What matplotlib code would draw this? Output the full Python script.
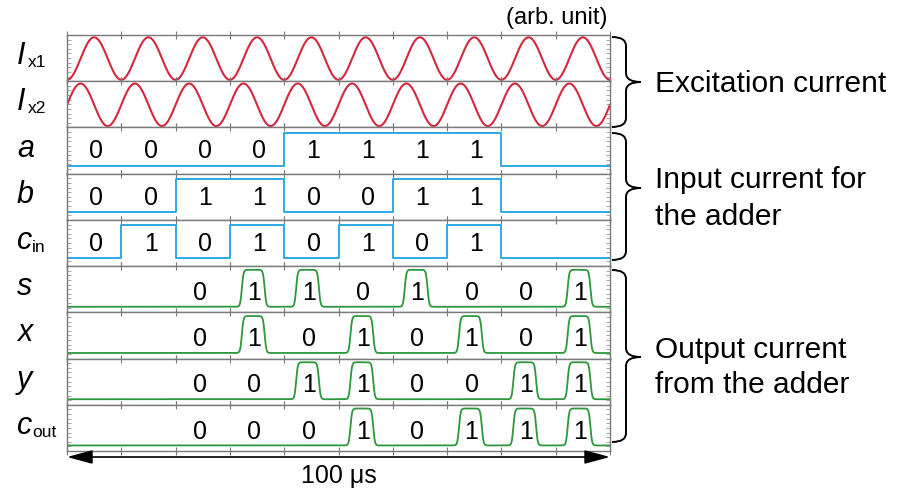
import numpy as np
import matplotlib
matplotlib.use("Agg")
import matplotlib.pyplot as plt
from matplotlib.path import Path
from matplotlib.patches import PathPatch, FancyArrowPatch

plt.rcParams['font.family'] = ['Liberation Sans', 'DejaVu Sans']

# ---- signal data (time in microseconds) ----
t_total = 100.0
slot = 10.0

# excitation currents: sinusoids, period and time of first peak
exc_period = 10.0
ix1_peak = 5.0
ix2_peak = 2.5

# adder inputs: one bit per slot, starting at t = 0
a_bits = [0, 0, 0, 0, 1, 1, 1, 1]
b_bits = [0, 0, 1, 1, 0, 0, 1, 1]
cin_bits = [0, 1, 0, 1, 0, 1, 0, 1]
input_start = 0.0

# adder outputs: one bit per slot, starting at t = 20
s_bits = [0, 1, 1, 0, 1, 0, 0, 1]
x_bits = [0, 1, 0, 1, 0, 1, 0, 1]
y_bits = [0, 0, 1, 1, 0, 0, 1, 1]
cout_bits = [0, 0, 0, 1, 0, 1, 1, 1]
output_start = 20.0

RED = '#d4283e'
BLUE = '#1ea3e3'
GREEN = '#2b983b'
FRAME = '#7a7a7a'

W, H = 907, 492
fig = plt.figure(figsize=(W / 100, H / 100), dpi=100)

# overlay in pixel coordinates for labels, braces and the time arrow
ov = fig.add_axes([0, 0, 1, 1], zorder=5)
ov.set_xlim(0, W)
ov.set_ylim(H, 0)
ov.axis('off')
ov.patch.set_alpha(0)

left_px, right_px, top_px, bot_px = 67, 610, 35, 451
n_rows = 9
row_h = (bot_px - top_px) / n_rows

rows = [
    ('I', 'x1', 'sine', ix1_peak),
    ('I', 'x2', 'sine', ix2_peak),
    ('a', '', 'in', a_bits),
    ('b', '', 'in', b_bits),
    ('c', 'in', 'in', cin_bits),
    ('s', '', 'out', s_bits),
    ('x', '', 'out', x_bits),
    ('y', '', 'out', y_bits),
    ('c', 'out', 'out', cout_bits),
]

t = np.linspace(0, t_total, 4001)


def input_trace(bits):
    edges = input_start + slot * np.arange(len(bits) + 1)
    levels = list(bits) + [0]
    times = np.concatenate([edges, [t_total]])
    vals = np.where(np.array(levels + [0]) == 1, 0.89, 0.17)
    return times, vals


def output_trace(bits):
    lo, hi = 0.12, 0.92
    y = np.full_like(t, lo)
    tau = 0.3
    for k, b in enumerate(bits):
        if b:
            t0 = output_start + k * slot
            r, f = t0 + 2.2, t0 + 6.4
            y += (hi - lo) * 0.5 * (np.tanh((t - r) / tau) - np.tanh((t - f) / tau))
    return y


for i, (main, sub, kind, data) in enumerate(rows):
    y0 = top_px + i * row_h
    ax = fig.add_axes([left_px / W, 1 - (y0 + row_h) / H,
                       (right_px - left_px) / W, row_h / H])
    ax.set_xlim(0, t_total)
    ax.set_ylim(0, 1)
    ax.set_xticks(np.arange(0, t_total + 1, 10))
    ax.set_yticks(np.arange(0, 1.01, 0.1))
    ax.tick_params(axis='x', direction='inout', length=6, width=0.8,
                   color=FRAME, top=True, bottom=True,
                   labelbottom=False, labeltop=False)
    ax.tick_params(axis='y', direction='in', length=3, width=0.6,
                   color='#999999', left=True, right=True,
                   labelleft=False, labelright=False)
    for sp in ax.spines.values():
        sp.set_color(FRAME)
        sp.set_linewidth(1.0)

    if kind == 'sine':
        ax.plot(t, 0.49 + 0.46 * np.cos(2 * np.pi * (t - data) / exc_period),
                color=RED, lw=1.5)
    elif kind == 'in':
        times, vals = input_trace(data)
        ax.plot(times, vals, drawstyle='steps-post', color=BLUE, lw=1.3)
        for k, b in enumerate(data):
            ax.text(input_start + (k + 0.5) * slot + 0.4, 0.48, str(b),
                    ha='center', va='center', fontsize=18)
    else:
        ax.plot(t, output_trace(data), color=GREEN, lw=1.3)
        for k, b in enumerate(data):
            ax.text(output_start + k * slot + 4.5, 0.42, str(b),
                    ha='center', va='center', fontsize=18)

    # row label, italic letter with an upright subscript
    yc = y0 + row_h / 2
    lab = ov.text(17, yc + 6, main, fontsize=22, style='italic',
                  ha='left', va='baseline')
    if sub:
        dx = 2 if main == 'I' else 0
        ov.annotate(sub, xy=(1, 0), xycoords=lab, xytext=(dx, 1),
                    textcoords='offset pixels', fontsize=12.5,
                    ha='left', va='bottom')


def brace(x0, y_top, y_bot, y_tip, depth=14, tip=15, r=9):
    xs = x0 + depth
    verts = [(x0, y_top), (xs, y_top), (xs, y_top + r),
             (xs, y_tip - r), (xs, y_tip), (xs + tip, y_tip),
             (xs, y_tip), (xs, y_tip + r),
             (xs, y_bot - r), (xs, y_bot), (x0, y_bot)]
    codes = [Path.MOVETO, Path.CURVE3, Path.CURVE3,
             Path.LINETO, Path.CURVE3, Path.CURVE3,
             Path.CURVE3, Path.CURVE3,
             Path.LINETO, Path.CURVE3, Path.CURVE3]
    ov.add_patch(PathPatch(Path(verts, codes), fill=False,
                           edgecolor='black', lw=1.4))


brace(612, 37, 127, 82)
brace(612, 133, 260, 188)
brace(612, 270, 442, 357)

txt_kw = dict(fontsize=21.5, ha='left', va='center')
ov.text(655, 84, 'Excitation current', **txt_kw)
ov.text(655, 180, 'Input current for', **txt_kw)
ov.text(655, 217, 'the adder', **txt_kw)
ov.text(655, 350, 'Output current', **txt_kw)
ov.text(655, 385, 'from the adder', **txt_kw)

ov.text(607, 18, '(arb. unit)', fontsize=17, ha='right', va='center')

ov.add_patch(FancyArrowPatch((left_px, 457), (right_px, 457),
                             arrowstyle='<|-|>,head_length=1.3,head_width=0.35',
                             mutation_scale=12, color='black', lw=1.2,
                             shrinkA=0, shrinkB=0))
ov.text((left_px + right_px) / 2, 476, '100 \u03bcs', fontsize=18,
        ha='center', va='center')

fig.savefig('out.png', dpi=100)
